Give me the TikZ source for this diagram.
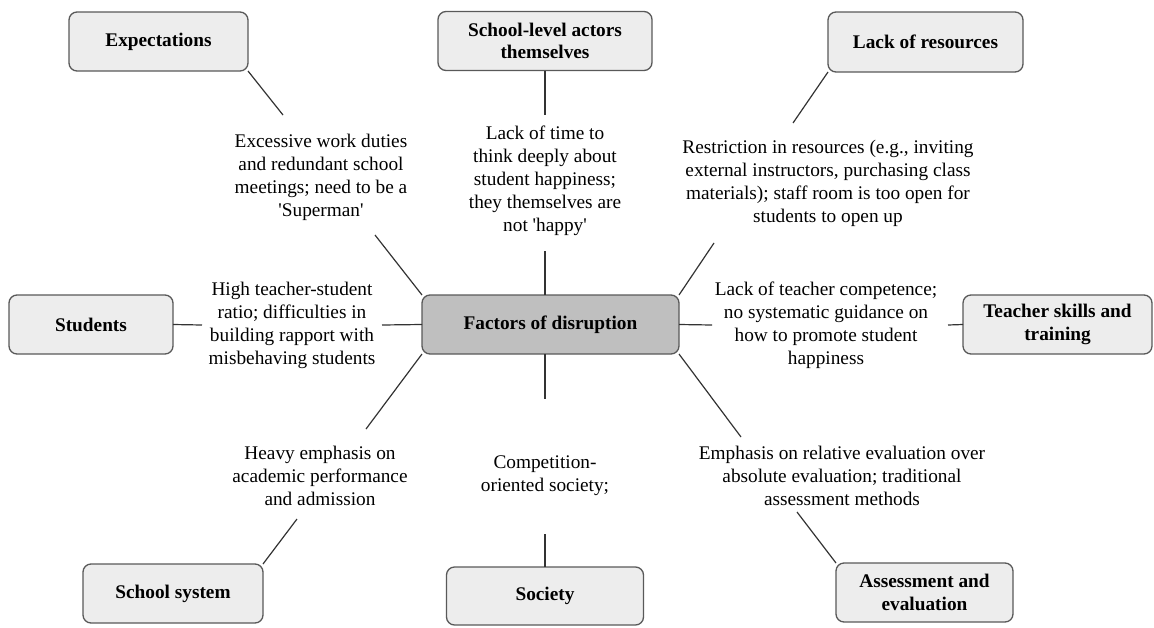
\documentclass[tikz,border=0pt]{standalone}
\usepackage{fontspec}
\setmainfont{Liberation Serif}[Ligatures=TeXOff]
\begin{document}
\begin{tikzpicture}[x=1pt,y=-1pt,
  box/.style={draw=black!65, line width=1.3pt, fill=black!7, rounded corners=8pt,
    inner sep=0pt, outer sep=0pt, align=center, font=\fontsize{19.3}{22.5}\selectfont\bfseries},
  hub/.style={box, fill=black!25},
  lbl/.style={inner sep=0pt, align=center, font=\fontsize{19.3}{23}\selectfont},
  conn/.style={draw=black!80, line width=1.2pt}]
\useasboundingbox (0,0) rectangle (1154,627);
% boxes
\node[hub, minimum width=257, minimum height=59] (ctr) at (550.5,324.5) {Factors of disruption};
\node[box, minimum width=179, minimum height=59] (exp) at (158.5,41.5) {Expectations};
\node[box, minimum width=214, minimum height=59] (act) at (545,41) {School-level actors\\themselves};
\node[box, minimum width=195, minimum height=60] (res) at (925.5,42) {Lack of resources};
\node[box, minimum width=164, minimum height=59] (stu) at (91,324.5) {Students};
\node[box, minimum width=189, minimum height=59] (tea) at (1057.5,324.5) {Teacher skills and\\training};
\node[box, minimum width=180, minimum height=59] (sch) at (173,593.5) {School system};
\node[box, minimum width=197, minimum height=58] (soc) at (545,596) {Society};
\node[box, minimum width=177, minimum height=59] (ass) at (924.5,592.5) {Assessment and\\evaluation};
% texts
\node[lbl] (texp) at (321,177) {Excessive work duties\\and redundant school\\meetings; need to be a\\'Superman'};
\node[lbl] (tact) at (545,181) {Lack of time to\\think deeply about\\student happiness;\\they themselves are\\not 'happy'};
\node[lbl] (tres) at (828,183) {Restriction in resources (e.g., inviting\\external instructors, purchasing class\\materials); staff room is too open for\\students to open up};
\node[lbl] (tstu) at (292,325) {High teacher-student\\ratio; difficulties in\\building rapport with\\misbehaving students};
\node[lbl] (ttea) at (826,325) {Lack of teacher competence;\\no systematic guidance on\\how to promote student\\happiness};
\node[lbl] (tsch) at (320,476) {Heavy emphasis on\\academic performance\\and admission};
\node[lbl] (tsoc) at (545,476) {Competition-\\oriented society;};
\node[lbl] (tass) at (842,476) {Emphasis on relative evaluation over\\absolute evaluation; traditional\\assessment methods};
% free ends
\coordinate (e1) at (283,115); \coordinate (e2) at (375,235);
\coordinate (a1) at (545,115); \coordinate (a2) at (545,251);
\coordinate (r1) at (793,123); \coordinate (r2) at (714,243);
\coordinate (s1) at (202,325); \coordinate (s2) at (382,325);
\coordinate (t1) at (712,325); \coordinate (t2) at (948,325);
\coordinate (h1) at (366,429); \coordinate (h2) at (297,519);
\coordinate (o1) at (545,399); \coordinate (o2) at (545,534);
\coordinate (v1) at (741,437); \coordinate (v2) at (797,512);
% connectors
\draw[conn] (exp.south east) -- (e1);
\draw[conn] (e2) -- (ctr.north west);
\draw[conn] (act.south) -- (a1);
\draw[conn] (a2) -- (a2 |- ctr.north);
\draw[conn] (res.south west) -- (r1);
\draw[conn] (r2) -- (ctr.north east);
\draw[conn] (stu.east) -- (s1);
\draw[conn] (s2) -- (ctr.west);
\draw[conn] (ctr.east) -- (t1);
\draw[conn] (t2) -- (tea.west);
\draw[conn] (ctr.south west) -- (h1);
\draw[conn] (h2) -- (sch.north east);
\draw[conn] (o1 |- ctr.south) -- (o1);
\draw[conn] (o2) -- (soc.north);
\draw[conn] (ctr.south east) -- (v1);
\draw[conn] (v2) -- (ass.north west);
\end{tikzpicture}
\end{document}
